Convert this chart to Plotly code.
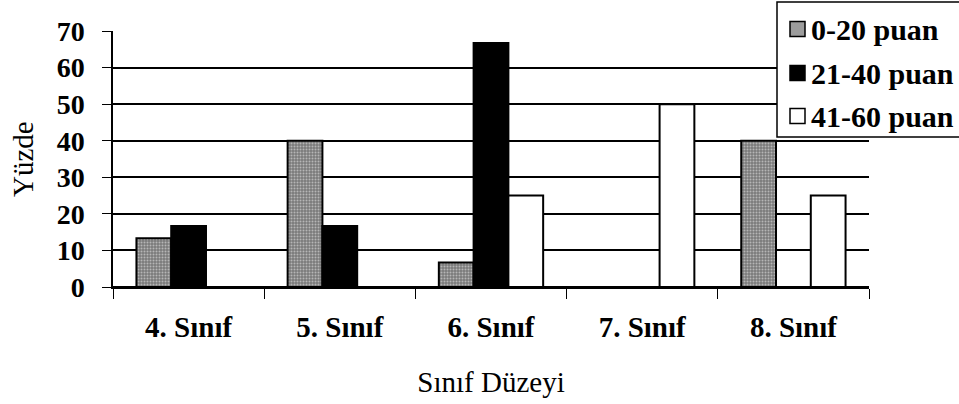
import plotly.graph_objects as go

categories = ["4. Sınıf", "5. Sınıf", "6. Sınıf", "7. Sınıf", "8. Sınıf"]
series_names = ["0-20 puan", "21-40 puan", "41-60 puan"]
v_0_20 = [13.3, 40.0, 6.7, 0.0, 40.0]
v_21_40 = [16.7, 16.7, 66.7, 0.0, 0.0]
v_41_60 = [0.0, 0.0, 25.0, 50.0, 25.0]
y_ticks = [0, 10, 20, 30, 40, 50, 60, 70]

serif = "Liberation Serif, Times New Roman, serif"

W, H = 959, 404
L, R, T, B = 113, 90, 31, 117
PW, PH = W - L - R, H - T - B


def px_x(px):
    return (px - L) / PW


def px_y(py):
    return (H - B - py) / PH


fills = ["#9c9c9c", "black", "white"]

fig = go.Figure()
fig.add_trace(go.Bar(
    name=series_names[0], x=categories, y=v_0_20,
    marker=dict(color=fills[0], line=dict(color="black", width=2),
                pattern=dict(shape=".", fgcolor="#f2f2f2", bgcolor="#7a7a7a",
                             size=3, solidity=0.35)),
))
fig.add_trace(go.Bar(
    name=series_names[1], x=categories, y=v_21_40,
    marker=dict(color=fills[1], line=dict(color="black", width=2)),
))
fig.add_trace(go.Bar(
    name=series_names[2], x=categories, y=v_41_60,
    marker=dict(color=fills[2], line=dict(color="black", width=2)),
))

# legend box drawn as shapes + text (matches the original's boxed legend)
shapes = [dict(type="rect", xref="paper", yref="paper",
               x0=px_x(777), x1=px_x(965), y0=px_y(137), y1=px_y(2),
               fillcolor="white", line=dict(color="black", width=1.5), layer="above")]
annotations = []
row_y = [29, 73, 116]
for name, fill, ry in zip(series_names, fills, row_y):
    shapes.append(dict(type="rect", xref="paper", yref="paper",
                       x0=px_x(790), x1=px_x(805), y0=px_y(ry + 7.5), y1=px_y(ry - 7.5),
                       fillcolor=fill, line=dict(color="black", width=1.5), layer="above"))
    annotations.append(dict(text=name, showarrow=False, xref="paper", yref="paper",
                            x=px_x(809), y=px_y(ry), xanchor="left", yanchor="middle",
                            font=dict(family=serif, size=30, color="black", weight="bold")))

annotations.append(dict(
    text="Yüzde", textangle=-90, showarrow=False,
    xref="paper", yref="paper", x=px_x(23), y=0.5,
    xanchor="center", yanchor="middle",
    font=dict(family=serif, size=29, color="black"),
))

fig.update_layout(
    width=W, height=H,
    barmode="group", bargap=0.31, bargroupgap=0,
    paper_bgcolor="white", plot_bgcolor="white",
    margin=dict(l=L, r=R, t=T, b=B, autoexpand=False),
    font=dict(family=serif, color="black"),
    showlegend=False,
    xaxis=dict(
        showline=True, linecolor="black", linewidth=1.5,
        ticks="outside", tickson="boundaries", ticklen=10, tickcolor="black",
        ticklabelstandoff=13,
        tickfont=dict(family=serif, size=29, color="black", weight="bold"),
        title=dict(text="Sınıf Düzeyi", font=dict(family=serif, size=29, color="black"),
                   standoff=30),
        showgrid=False,
    ),
    yaxis=dict(
        range=[0, 70], tickvals=y_ticks, ticktext=[str(t) for t in y_ticks],
        showline=True, linecolor="black", linewidth=1.5,
        ticks="outside", ticklen=9, tickcolor="black",
        ticklabelstandoff=12,
        showgrid=True, gridcolor="black", gridwidth=1.5,
        zeroline=True, zerolinecolor="black", zerolinewidth=1.5,
        tickfont=dict(family=serif, size=28, color="black", weight="bold"),
    ),
    shapes=shapes,
    annotations=annotations,
)

fig.write_html(
    "out.html",
    config={"displayModeBar": False},
    post_script="document.body.style.margin='0';document.body.style.overflow='hidden';",
)
